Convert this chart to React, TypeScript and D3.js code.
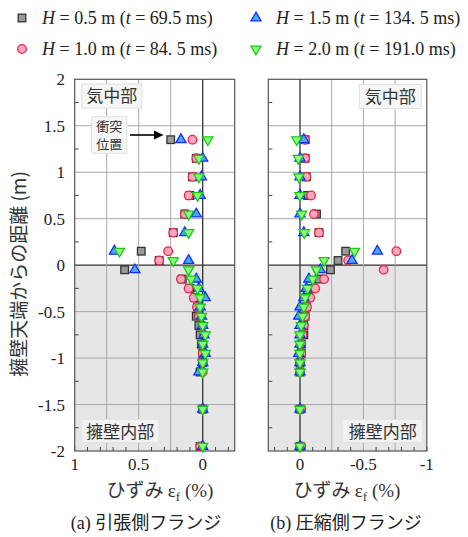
import * as d3 from "d3";

// gauge heights (m, from wall top)
const heights = [1.35, 1.15, 0.95, 0.75, 0.55, 0.35, 0.15, 0.05, -0.05, -0.15, -0.25, -0.35, -0.45, -0.55, -0.65, -0.75, -0.85, -0.95, -1.05, -1.15, -1.55, -1.95];

// (a) tension side strain (%)
const tenH05 = [0.25, 0.05, 0.08, 0.1, 0.14, 0.23, 0.48, 0.34, 0.61, 0.16, 0.1, 0.06, 0.04, 0.05, 0.03, 0.02, 0.01, 0.0, 0.0, 0.02, 0.0, 0.02];
const tenH10 = [0.08, 0.05, 0.08, 0.11, 0.14, 0.23, 0.27, 0.34, null, 0.17, 0.11, 0.07, 0.045, 0.03, 0.0, -0.01, 0.0, 0.0, 0.0, 0.0, 0.0, 0.02];
const tenH15 = [0.17, 0.0, 0.01, 0.02, 0.05, 0.14, 0.69, 0.11, 0.53, 0.05, 0.03, -0.02, 0.02, 0.01, 0.0, -0.01, 0.0, -0.02, 0.0, 0.03, 0.0, 0.0];
const tenH20 = [-0.04, 0.03, 0.03, 0.04, 0.11, 0.11, 0.65, 0.23, 0.11, 0.09, 0.04, 0.02, 0.02, 0.01, 0.0, -0.02, 0.0, -0.02, 0.0, 0.0, 0.0, 0.0];

// (b) compression side strain (%)
const comH05 = [-0.04, -0.04, -0.05, -0.06, -0.13, -0.15, -0.36, -0.3, -0.24, -0.15, -0.1, -0.07, -0.05, -0.04, -0.03, -0.03, -0.01, -0.01, 0.0, 0.0, 0.0, 0.0];
const comH10 = [-0.04, -0.04, -0.05, -0.087, -0.11, -0.15, -0.76, -0.38, -0.66, -0.19, -0.12, -0.08, -0.055, -0.04, -0.03, -0.02, -0.01, -0.01, 0.0, 0.0, -0.01, -0.01];
const comH15 = [-0.03, 0.0, 0.0, 0.0, 0.0, -0.03, -0.61, -0.41, -0.16, -0.07, -0.05, -0.03, 0.0, 0.01, 0.0, 0.0, 0.0, 0.01, 0.0, 0.0, 0.0, 0.0];
const comH20 = [0.026, 0.013, 0.008, 0.0, -0.013, -0.034, -0.43, -0.19, -0.13, -0.1, -0.06, -0.04, -0.03, -0.02, -0.01, 0.0, 0.0, 0.0, 0.0, 0.0, 0.0, 0.0];

const yTicks = [2, 1.5, 1, 0.5, 0, -0.5, -1, -1.5, -2];
const xTicksA = [1, 0.5, 0];
const xTicksB = [0, -0.5, -1];

const legendH = ["0.5", "1.0", "1.5", "2.0"];
const legendT = ["69.5", "84. 5", "134. 5", "191.0"];

const serif = "'Times New Roman', 'Liberation Serif', serif";
const jp = "'Noto Sans CJK JP', sans-serif";

const styles = [
  { type: "square", fill: "#9a9a9a", stroke: "#333" },
  { type: "circle", fill: "#f6a6bd", stroke: "#e8284a" },
  { type: "tri", fill: "#4aa8ff", stroke: "#1030ff" },
  { type: "itri", fill: "#90ff80", stroke: "#18c818" },
];

const Marker = ({ type, fill, stroke, x, y }: any) => {
  if (type === "square") return <rect x={x - 3.8} y={y - 3.8} width={7.6} height={7.6} fill={fill} stroke={stroke} strokeWidth={1.3} />;
  if (type === "circle") return <circle cx={x} cy={y} r={4.3} fill={fill} stroke={stroke} strokeWidth={1.3} />;
  const p = d3.symbol(d3.symbolTriangle, 44)()!;
  return <path d={p} transform={`translate(${x},${y})${type === "itri" ? " rotate(180)" : ""}`} fill={fill} stroke={stroke} strokeWidth={1.3} />;
};

const y = d3.scaleLinear().domain([2, -2]).range([79.3, 451]);

const Panel = ({ x, series, ticks, grid, air, inner, children }: any) => {
  const [x0, x1] = x.range();
  const minor = d3.range(-1.75, 2, 0.5);
  const xMinor = x.ticks(10).filter((v: number) => !grid.includes(v));
  return (
    <g>
      <rect x={x0} y={y(0)} width={x1 - x0} height={y(-2) - y(0)} fill="#e6e6e6" />
      {yTicks.slice(1, -1).map((v) => (
        <line key={v} x1={x0} x2={x1} y1={y(v)} y2={y(v)} stroke={v === 0 ? "#333" : "#a8a8a8"} strokeWidth={v === 0 ? 1.3 : 1} />
      ))}
      {grid.map((v: number) => (
        <line key={v} x1={x(v)} x2={x(v)} y1={y(2)} y2={y(-2)} stroke={v === 0 ? "#333" : "#a8a8a8"} strokeWidth={v === 0 ? 1.3 : 1} />
      ))}
      {minor.map((v: number) => (
        <line key={v} x1={x0} x2={x0 + 4} y1={y(v)} y2={y(v)} stroke="#444" />
      ))}
      {xMinor.map((v: number) => (
        <line key={v} x1={x(v)} x2={x(v)} y1={y(-2)} y2={y(-2) - 4} stroke="#444" />
      ))}
      <rect x={x0} y={y(2)} width={x1 - x0} height={y(-2) - y(2)} fill="none" stroke="#555" strokeWidth={1.2} />
      {ticks.map((v: number) => (
        <text key={v} x={x(v)} y={470} textAnchor="middle" fontFamily={serif} fontSize={17} fill="#222">{v}</text>
      ))}
      <g>
        <rect x={air[0]} y={air[1]} width={air[2]} height={24} fill="#f7f7f7" stroke="#e0e0e0" />
        <text x={air[0] + air[2] / 2} y={air[1] + 18} textAnchor="middle" fontFamily={jp} fontSize={17} fill="#333">気中部</text>
        <rect x={inner[0]} y={inner[1]} width={inner[2]} height={23} fill="#f2f2f2" stroke="#e4e4e4" />
        <text x={inner[0] + inner[2] / 2} y={inner[1] + 18} textAnchor="middle" fontFamily={jp} fontSize={17} fill="#333">擁壁内部</text>
      </g>
      {children}
      {series.map((vals: (number | null)[], si: number) => (
        <g key={si}>
          {vals.map((v, i) => (v === null ? null : <Marker key={i} {...styles[si]} x={x(v)} y={y(heights[i])} />))}
        </g>
      ))}
    </g>
  );
};

export default function App() {
  const xa = d3.scaleLinear().domain([1, -0.25]).range([74.7, 234.7]);
  const xb = d3.scaleLinear().domain([0.25, -1]).range([268.3, 426.8]);
  return (
    <svg width={468} height={537} style={{ display: "block", position: "absolute", left: 0, top: 0 }}>
      <rect width={468} height={537} fill="#fff" />
      {/* legend: left column 0.5 / 1.0, right column 1.5 / 2.0 */}
      {legendH.map((h, si) => {
        const lx = si < 2 ? 22 : 256;
        const ly = si % 2 === 0 ? 18 : 49;
        return (
          <g key={si}>
            <Marker {...styles[si]} x={lx} y={ly} />
            <text x={lx + 20} y={ly + 6} fontFamily={serif} fontSize={18} fill="#222">
              <tspan fontStyle="italic">H</tspan> = {h} m (<tspan fontStyle="italic">t</tspan> = {legendT[si]} ms)
            </text>
          </g>
        );
      })}
      <Panel x={xa} series={[tenH05, tenH10, tenH15, tenH20]} ticks={xTicksA} grid={[0.75, 0.5, 0.25, 0]}
        air={[81.7, 84, 60]} inner={[81.7, 419.5, 77]}>
        <rect x={91.7} y={116.7} width={35} height={36.6} fill="#f7f7f7" stroke="#e0e0e0" />
        <text x={109.2} y={131} textAnchor="middle" fontFamily={jp} fontSize={13} fill="#333">衝突</text>
        <text x={109.2} y={149} textAnchor="middle" fontFamily={jp} fontSize={13} fill="#333">位置</text>
        <line x1={130} x2={156} y1={135} y2={135} stroke="#000" strokeWidth={1.6} />
        <path d="M154,130.5 L163.5,135 L154,139.5 Z" fill="#000" />
      </Panel>
      <Panel x={xb} series={[comH05, comH10, comH15, comH20]} ticks={xTicksB} grid={[-0.25, -0.5, -0.75, 0]}
        air={[359.3, 84.5, 62]} inner={[342.7, 419.5, 80]} />
      {/* y axis labels */}
      {yTicks.map((v) => (
        <text key={v} x={65} y={y(v) + 6} textAnchor="end" fontFamily={serif} fontSize={17} fill="#222">{v}</text>
      ))}
      <text transform="translate(26,274) rotate(-90)" textAnchor="middle" fontFamily={jp} fontSize={19} fill="#333">擁壁天端からの距離 (m)</text>
      {/* x titles */}
      {[160, 347].map((cx) => (
        <text key={cx} x={cx} y={497} textAnchor="middle" fontSize={19} fill="#333">
          <tspan fontFamily={jp}>ひずみ </tspan>
          <tspan fontFamily={serif}>ε</tspan>
          <tspan fontFamily={serif} fontSize={13} dy={4}>f</tspan>
          <tspan fontFamily={serif} dy={-4}> (%)</tspan>
        </text>
      ))}
      <text x={146} y={529} textAnchor="middle" fontSize={18} fill="#222">
        <tspan fontFamily={serif}>(a) </tspan><tspan fontFamily={jp}>引張側フランジ</tspan>
      </text>
      <text x={346} y={529} textAnchor="middle" fontSize={18} fill="#222">
        <tspan fontFamily={serif}>(b) </tspan><tspan fontFamily={jp}>圧縮側フランジ</tspan>
      </text>
    </svg>
  );
}
